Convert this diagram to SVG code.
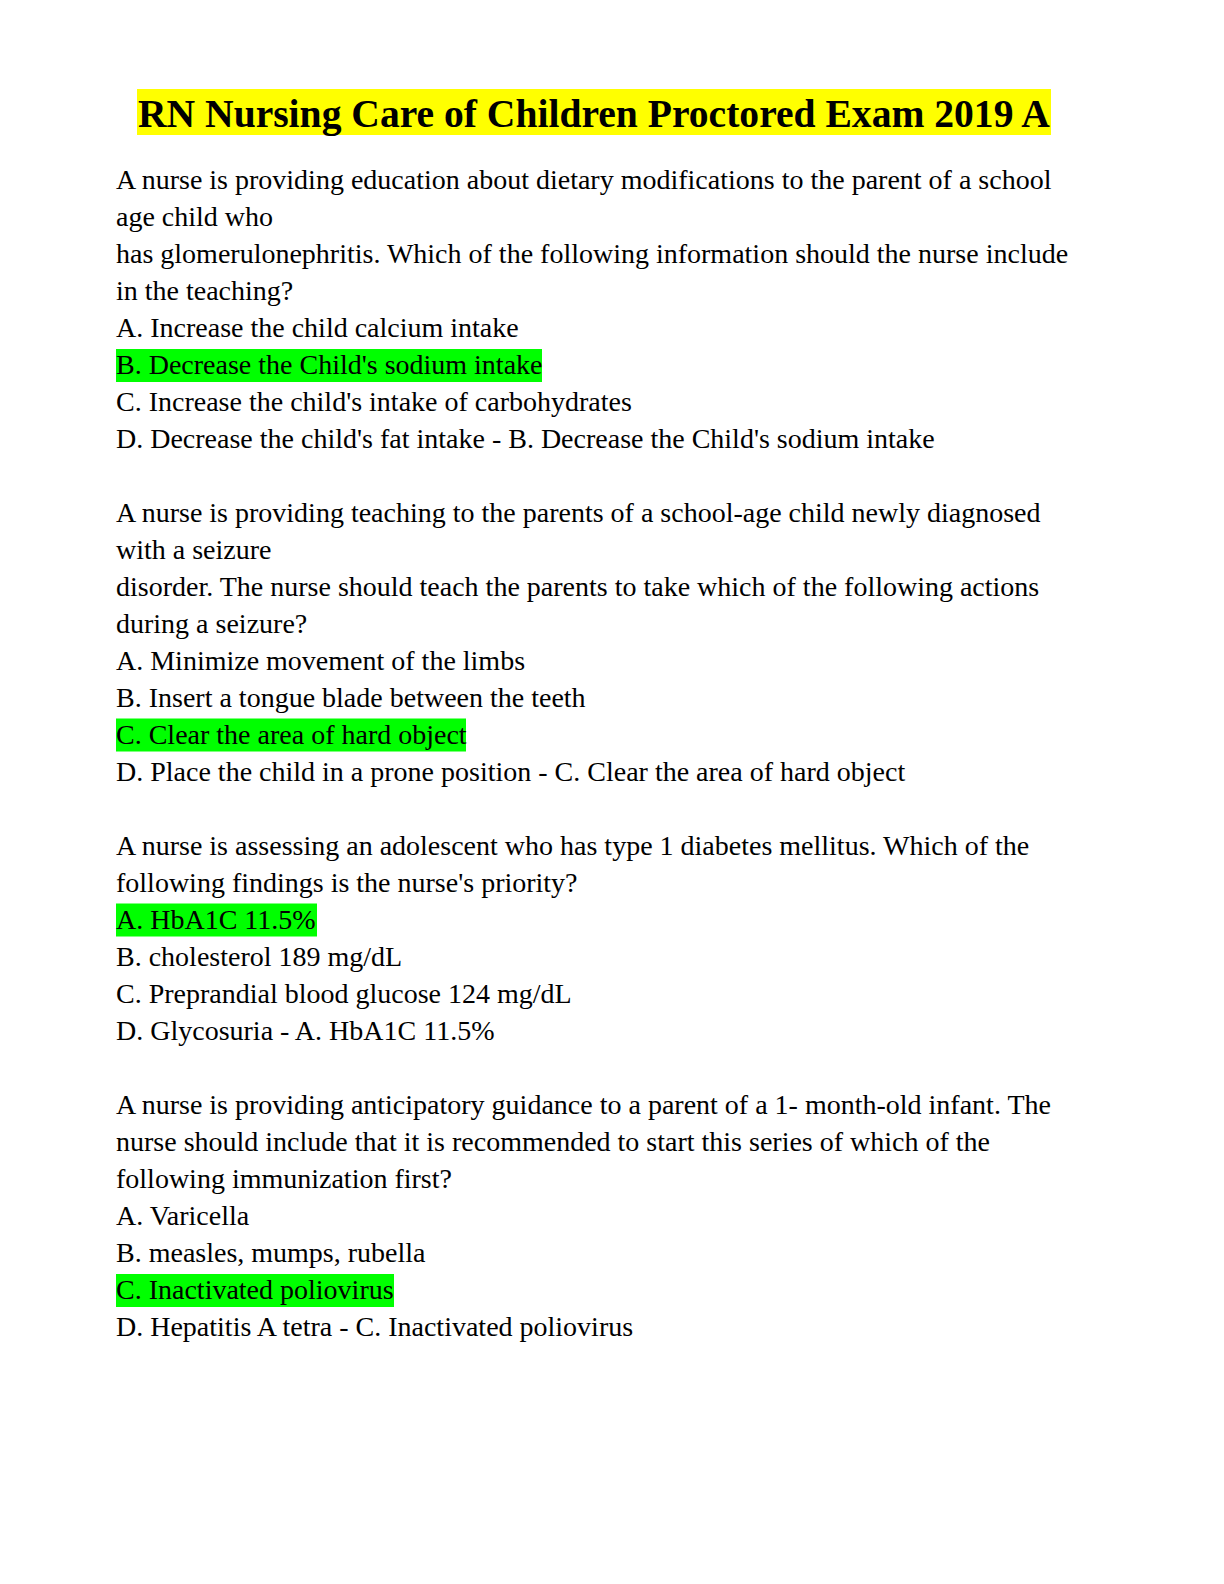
<svg xmlns="http://www.w3.org/2000/svg" width="1224" height="1584" viewBox="0 0 1224 1584">
<style>
.t{font-family:"Liberation Serif","Times New Roman",serif;font-size:28px;fill:#000}
.h{font-family:"Liberation Serif","Times New Roman",serif;font-size:39.6px;font-weight:bold;fill:#000}
.g{fill:#00FF00}
</style>
<rect width="1224" height="1584" fill="#fff"/>
<rect x="137" y="89" width="914" height="46" fill="#FFFF00"/>
<text class="h" x="138" y="126.7">RN Nursing Care of Children Proctored Exam 2019 A</text>
<rect class="g" x="116" y="349" width="426" height="33"/>
<rect class="g" x="116" y="718.5" width="350" height="33"/>
<rect class="g" x="116" y="903.5" width="201" height="33"/>
<rect class="g" x="116" y="1274" width="278" height="33"/>
<g class="t">
<text x="116" y="189">A nurse is providing education about dietary modifications to the parent of a school</text>
<text x="116" y="226">age child who</text>
<text x="116" y="263">has glomerulonephritis. Which of the following information should the nurse include</text>
<text x="116" y="300">in the teaching?</text>
<text x="116" y="337">A. Increase the child calcium intake</text>
<text x="116" y="374">B. Decrease the Child's sodium intake</text>
<text x="116" y="411">C. Increase the child's intake of carbohydrates</text>
<text x="116" y="448">D. Decrease the child's fat intake - B. Decrease the Child's sodium intake</text>
<text x="116" y="522">A nurse is providing teaching to the parents of a school-age child newly diagnosed</text>
<text x="116" y="559">with a seizure</text>
<text x="116" y="596">disorder. The nurse should teach the parents to take which of the following actions</text>
<text x="116" y="633">during a seizure?</text>
<text x="116" y="670">A. Minimize movement of the limbs</text>
<text x="116" y="707">B. Insert a tongue blade between the teeth</text>
<text x="116" y="744">C. Clear the area of hard object</text>
<text x="116" y="781">D. Place the child in a prone position - C. Clear the area of hard object</text>
<text x="116" y="855">A nurse is assessing an adolescent who has type 1 diabetes mellitus. Which of the</text>
<text x="116" y="892">following findings is the nurse's priority?</text>
<text x="116" y="929">A. HbA1C 11.5%</text>
<text x="116" y="966">B. cholesterol 189 mg/dL</text>
<text x="116" y="1003">C. Preprandial blood glucose 124 mg/dL</text>
<text x="116" y="1040">D. Glycosuria - A. HbA1C 11.5%</text>
<text x="116" y="1114">A nurse is providing anticipatory guidance to a parent of a 1- month-old infant. The</text>
<text x="116" y="1151">nurse should include that it is recommended to start this series of which of the</text>
<text x="116" y="1188">following immunization first?</text>
<text x="116" y="1225">A. Varicella</text>
<text x="116" y="1262">B. measles, mumps, rubella</text>
<text x="116" y="1299">C. Inactivated poliovirus</text>
<text x="116" y="1336">D. Hepatitis A tetra - C. Inactivated poliovirus</text>
</g>
</svg>
